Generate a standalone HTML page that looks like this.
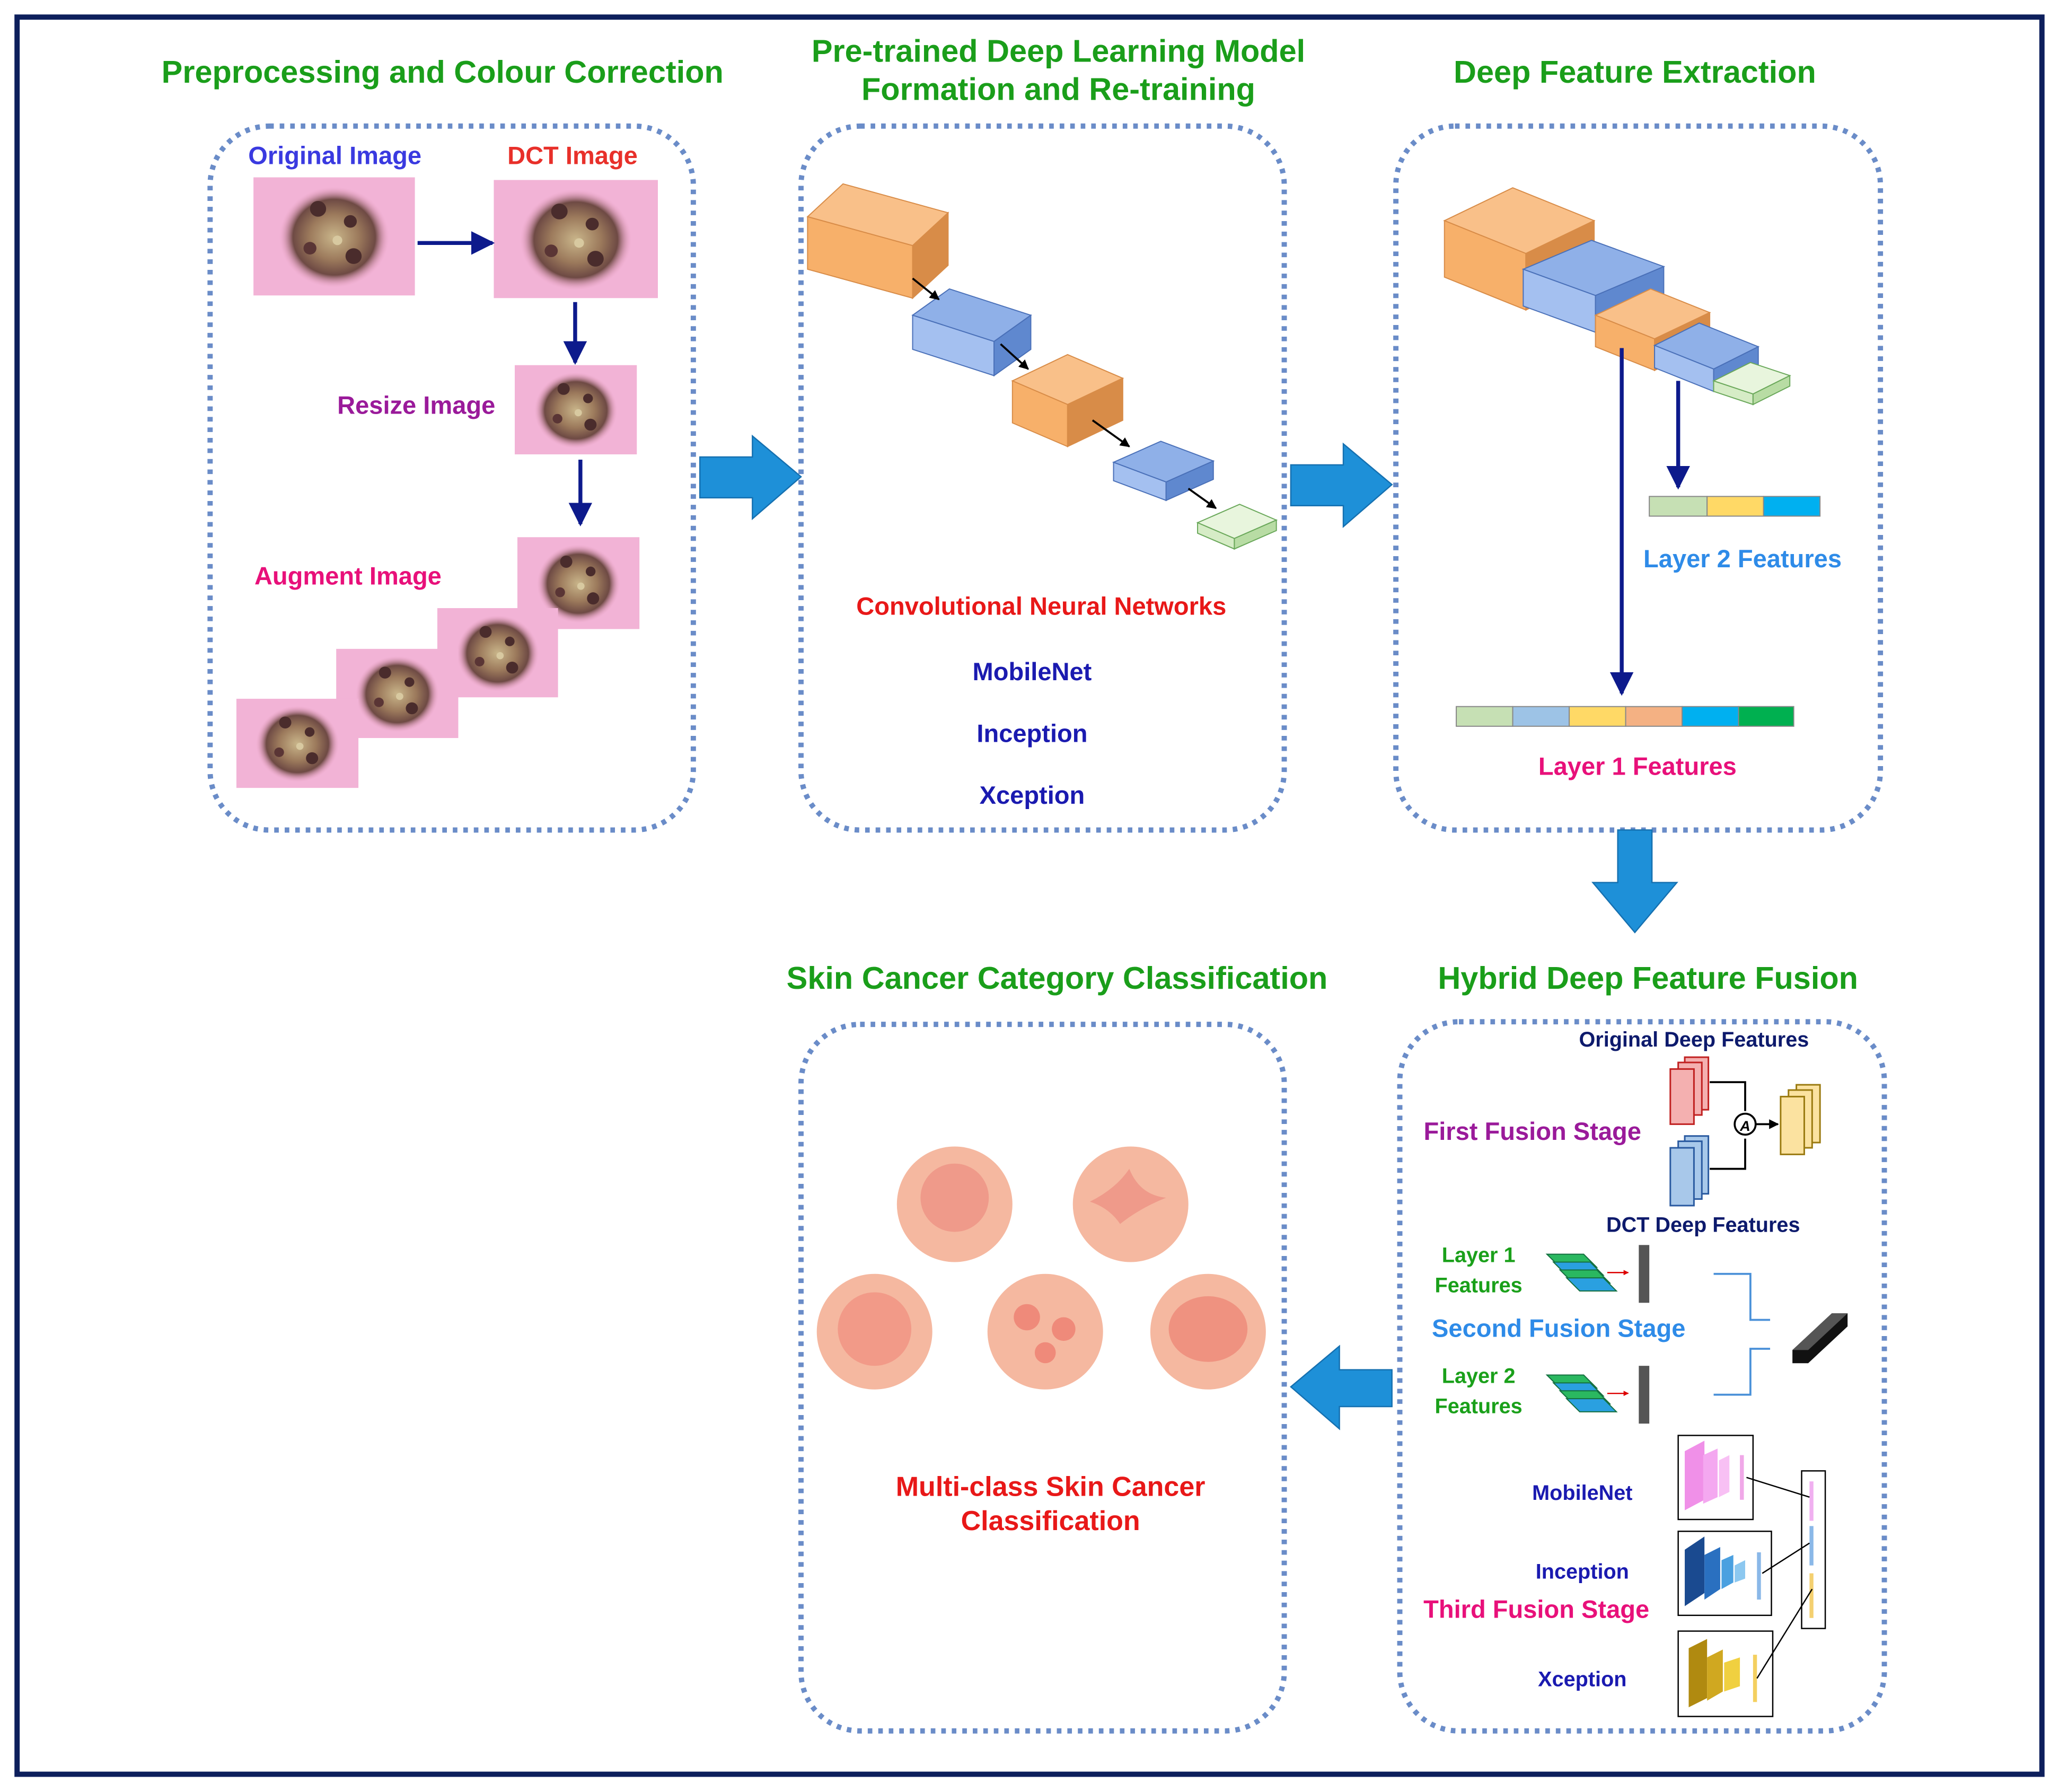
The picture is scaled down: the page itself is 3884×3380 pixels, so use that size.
<!DOCTYPE html>
<html><head><meta charset="utf-8"><style>
html,body{margin:0;padding:0;background:#fff}
svg{display:block}
text{font-family:"Liberation Sans",Arial,sans-serif;font-weight:bold}
</style></head><body>
<svg id="s" width="3884" height="3380" viewBox="0 0 1568 1364.5" xmlns="http://www.w3.org/2000/svg">
<defs>
<radialGradient id="les" cx="50%" cy="50%" r="50%">
<stop offset="0" stop-color="#c9b58a"/><stop offset="0.45" stop-color="#9c7a5c"/><stop offset="0.75" stop-color="#6e4a44"/><stop offset="1" stop-color="#e8a0c0" stop-opacity="0"/></radialGradient>
<symbol id="skin" viewBox="0 0 100 75" preserveAspectRatio="none">
<rect width="100" height="75" fill="#f2b3d6"/>
<ellipse cx="50" cy="38" rx="34" ry="32" fill="url(#les)"/>
<circle cx="40" cy="20" r="5" fill="#4a2c2c"/><circle cx="60" cy="28" r="4" fill="#4a2c2c"/>
<circle cx="35" cy="45" r="4" fill="#5a3535"/><circle cx="62" cy="50" r="5" fill="#4a2c2c"/><circle cx="52" cy="40" r="3" fill="#d8c9a0"/>
</symbol>
<marker id="ah" viewBox="0 0 10 10" refX="9" refY="5" markerWidth="6" markerHeight="6" orient="auto"><path d="M0,0L10,5L0,10z" fill="#0d1a8c"/></marker>
<marker id="ak" viewBox="0 0 10 10" refX="9" refY="5" markerWidth="5" markerHeight="5" orient="auto"><path d="M0,0L10,5L0,10z" fill="#000"/></marker>
<marker id="ar" viewBox="0 0 10 10" refX="9" refY="5" markerWidth="4" markerHeight="4" orient="auto"><path d="M0,0L10,5L0,10z" fill="#d00"/></marker>
</defs>
<rect x="13" y="13" width="1542" height="1338" fill="none" stroke="#0d1f5c" stroke-width="4"/>
<g fill="none" stroke="#6a8cc8" stroke-width="4" stroke-dasharray="3.5 4.5">
<rect x="160" y="96" width="368" height="536" rx="45"/>
<rect x="610" y="96" width="368" height="536" rx="45"/>
<rect x="1063" y="96" width="369" height="536" rx="45"/>
<rect x="610" y="780" width="368" height="538" rx="45"/>
<rect x="1066" y="778" width="369" height="540" rx="45"/>
</g>
<g fill="#1a9e1a" font-size="24" text-anchor="middle">
<text x="337" y="63">Preprocessing and Colour Correction</text>
<text x="806" y="47">Pre-trained Deep Learning Model</text>
<text x="806" y="76">Formation and Re-training</text>
<text x="1245" y="63">Deep Feature Extraction</text>
<text x="805" y="753">Skin Cancer Category Classification</text>
<text x="1255" y="753">Hybrid Deep Feature Fusion</text>
</g>
<!-- big blue arrows -->
<g fill="#1e90d8" stroke="#1570b0" stroke-width="1">
<path d="M533,348h40v-16l37,31l-37,32v-16h-40z"/>
<path d="M983,354h40v-16l37,31l-37,32v-16h-40z"/>
<path d="M1232,632h26v40h19l-32,38l-32,-38h19z"/>
<path d="M1060,1043h-40v-18l-37,31l37,32v-17h40z"/>
</g>
<!-- panel 1 -->
<g font-size="19" text-anchor="middle">
<text x="255" y="125" fill="#3a3ae0">Original Image</text>
<text x="436" y="125" fill="#e8302a">DCT Image</text>
<text x="317" y="315" fill="#9a1a9a">Resize Image</text>
<text x="265" y="445" fill="#e8107a">Augment Image</text>
</g>
<use href="#skin" x="193" y="135" width="123" height="90"/>
<use href="#skin" x="376" y="137" width="125" height="90"/>
<use href="#skin" x="392" y="278" width="93" height="68"/>
<use href="#skin" x="394" y="409" width="93" height="70"/>
<use href="#skin" x="333" y="463" width="92" height="68"/>
<use href="#skin" x="256" y="494" width="93" height="68"/>
<use href="#skin" x="180" y="532" width="93" height="68"/>
<g stroke="#0d1a8c" stroke-width="3" marker-end="url(#ah)">
<line x1="318" y1="185" x2="375" y2="185"/>
<line x1="438" y1="230" x2="438" y2="276"/>
<line x1="442" y1="350" x2="442" y2="399"/>
</g>
<!-- panel 2 text -->
<g font-size="19" text-anchor="middle">
<text x="793" y="468" fill="#e81818">Convolutional Neural Networks</text>
<text x="786" y="518" fill="#1a1ab0">MobileNet</text>
<text x="786" y="565" fill="#1a1ab0">Inception</text>
<text x="786" y="612" fill="#1a1ab0">Xception</text>
</g>
<g id="cubes"></g>
<g stroke="#000" stroke-width="1.5" marker-end="url(#ak)">
<line x1="695" y1="212" x2="715" y2="228"/>
<line x1="762" y1="262" x2="783" y2="281"/>
<line x1="832" y1="320" x2="860" y2="340"/>
<line x1="905" y1="372" x2="926" y2="387"/>
</g>
<!-- panel 3 -->
<g stroke="#0d1a8c" stroke-width="3" marker-end="url(#ah)">
<line x1="1235" y1="265" x2="1235" y2="528"/>
<line x1="1278" y1="290" x2="1278" y2="371"/>
</g>
<g stroke="#888" stroke-width="0.8">
<rect x="1256" y="378" width="44" height="15" fill="#c6e0b4"/>
<rect x="1300" y="378" width="43" height="15" fill="#ffd966"/>
<rect x="1343" y="378" width="43" height="15" fill="#00b0f0"/>
<rect x="1109" y="538" width="43" height="15" fill="#c6e0b4"/>
<rect x="1152" y="538" width="43" height="15" fill="#9dc3e6"/>
<rect x="1195" y="538" width="43" height="15" fill="#ffd966"/>
<rect x="1238" y="538" width="43" height="15" fill="#f4b183"/>
<rect x="1281" y="538" width="43" height="15" fill="#00b0f0"/>
<rect x="1324" y="538" width="42" height="15" fill="#00b050"/>
</g>
<g font-size="19" text-anchor="middle">
<text x="1327" y="432" fill="#2e8be8">Layer 2 Features</text>
<text x="1247" y="590" fill="#e8107a">Layer 1 Features</text>
</g>
<!-- panel 4 -->
<g>
<circle cx="727" cy="917" r="44" fill="#f5b8a0"/><circle cx="727" cy="912" r="26" fill="#ef9a8a"/>
<circle cx="861" cy="917" r="44" fill="#f5b8a0"/><path d="M830,915q20,-10 30,-25q8,20 28,22q-20,8 -35,20q-8,-12 -23,-17z" fill="#ef9a8a"/>
<circle cx="666" cy="1014" r="44" fill="#f5b8a0"/><circle cx="666" cy="1012" r="28" fill="#f29a88"/>
<circle cx="796" cy="1014" r="44" fill="#f5b8a0"/><circle cx="782" cy="1003" r="10" fill="#ef8a7a"/><circle cx="810" cy="1012" r="9" fill="#ef8a7a"/><circle cx="796" cy="1030" r="8" fill="#ef8a7a"/>
<circle cx="920" cy="1014" r="44" fill="#f5b8a0"/><ellipse cx="920" cy="1012" rx="30" ry="25" fill="#ef9280"/>
</g>
<g font-size="21" text-anchor="middle" fill="#e81818">
<text x="800" y="1139">Multi-class Skin Cancer</text>
<text x="800" y="1165">Classification</text>
</g>
<!-- panel 5 -->
<g font-size="16" fill="#0d1a6c" text-anchor="middle">
<text x="1290" y="797">Original Deep Features</text>
<text x="1297" y="938">DCT Deep Features</text>
</g>
<g font-size="19" text-anchor="middle">
<text x="1167" y="868" fill="#9a1a9a">First Fusion Stage</text>
<text x="1187" y="1018" fill="#2e8be8">Second Fusion Stage</text>
<text x="1170" y="1232" fill="#e8107a">Third Fusion Stage</text>
</g>
<g font-size="16" text-anchor="middle" fill="#1aa01a">
<text x="1126" y="961">Layer 1</text><text x="1126" y="984">Features</text>
<text x="1126" y="1053">Layer 2</text><text x="1126" y="1076">Features</text>
</g>
<g font-size="16" text-anchor="middle" fill="#1a1ab0">
<text x="1205" y="1142">MobileNet</text>
<text x="1205" y="1202">Inception</text>
<text x="1205" y="1284">Xception</text>
</g>
<g stroke="#c02020" stroke-width="1.2" fill="#f4b0b0">
<rect x="1283" y="805" width="18" height="40"/><rect x="1278" y="809" width="18" height="40"/><rect x="1272" y="814" width="18" height="42"/>
</g>
<g stroke="#2a5aa0" stroke-width="1.2" fill="#a8c8ea">
<rect x="1283" y="865" width="18" height="44"/><rect x="1278" y="869" width="18" height="44"/><rect x="1272" y="874" width="18" height="44"/>
</g>
<g stroke="#9a7a10" stroke-width="1.2" fill="#fbe2a0">
<rect x="1368" y="826" width="18" height="44"/><rect x="1362" y="830" width="18" height="44"/><rect x="1356" y="835" width="18" height="44"/>
</g>
<g stroke="#000" stroke-width="1.5" fill="none">
<path d="M1302,824h27v22"/><path d="M1302,890h27v-23"/>
<circle cx="1329" cy="856" r="8" fill="#fff"/>
<line x1="1337" y1="856" x2="1354" y2="856" marker-end="url(#ak)"/>
</g>
<text x="1329" y="861" font-size="11" text-anchor="middle" font-style="italic" fill="#000">A</text>
<g id="greens"></g>
<g stroke="#d00" stroke-width="1" marker-end="url(#ar)">
<line x1="1224" y1="969" x2="1240" y2="969"/><line x1="1224" y1="1061" x2="1240" y2="1061"/>
</g>
<rect x="1248" y="948" width="8" height="44" fill="#555"/>
<rect x="1248" y="1040" width="8" height="44" fill="#555"/>
<g stroke="#4a90d8" stroke-width="1.5" fill="none">
<path d="M1305,970h28v35h15"/><path d="M1305,1062h28v-35h15"/>
</g>
<polygon points="1365,1028 1395,1000 1407,1000 1407,1010 1377,1038 1365,1038" fill="#111"/>
<polygon points="1365,1028 1395,1000 1407,1000 1377,1028" fill="#555"/>
<g stroke="#000" stroke-width="1" fill="#fff">
<rect x="1278" y="1093" width="57" height="64"/>
<rect x="1278" y="1166" width="71" height="64"/>
<rect x="1278" y="1242" width="72" height="65"/>
<rect x="1372" y="1120" width="18" height="120"/>
</g>
<g>
<polygon points="1283,1150 1283,1105 1298,1097 1298,1142" fill="#f090e8"/>
<polygon points="1297,1145 1297,1108 1308,1103 1308,1140" fill="#f4a8f0"/>
<polygon points="1309,1140 1309,1112 1317,1108 1317,1136" fill="#f8c0f4"/>
<rect x="1325" y="1108" width="3" height="34" fill="#f0a8e8"/>
<polygon points="1283,1223 1283,1180 1298,1170 1298,1213" fill="#1a4a90"/>
<polygon points="1298,1218 1298,1184 1310,1178 1310,1210" fill="#2a70c0"/>
<polygon points="1311,1210 1311,1188 1320,1184 1320,1205" fill="#4aa0e0"/>
<polygon points="1321,1205 1321,1192 1329,1188 1329,1202" fill="#8cc8f0"/>
<rect x="1338" y="1182" width="3" height="36" fill="#8ab8e8"/>
<polygon points="1286,1300 1286,1255 1300,1248 1300,1293" fill="#b08a10"/>
<polygon points="1300,1295 1300,1262 1312,1256 1312,1288" fill="#d0a820"/>
<polygon points="1313,1288 1313,1266 1325,1262 1325,1284" fill="#f0d040"/>
<rect x="1335" y="1260" width="3" height="36" fill="#f4d060"/>
<rect x="1378" y="1128" width="3" height="30" fill="#f0b0f0"/>
<rect x="1378" y="1162" width="3" height="30" fill="#8ab8e8"/>
<rect x="1378" y="1198" width="3" height="34" fill="#f4d070"/>
</g>
<g stroke="#000" stroke-width="1">
<line x1="1330" y1="1125" x2="1378" y2="1140"/>
<line x1="1342" y1="1198" x2="1378" y2="1175"/>
<line x1="1338" y1="1278" x2="1380" y2="1210"/>
</g>
<script>
(function(){
var g=document.getElementById('cubes'),NS='http://www.w3.org/2000/svg';
function poly(pts,fill,stroke){var p=document.createElementNS(NS,'polygon');p.setAttribute('points',pts.map(function(a){return a[0]+','+a[1]}).join(' '));p.setAttribute('fill',fill);p.setAttribute('stroke',stroke);p.setAttribute('stroke-width','0.8');g.appendChild(p);}
var C={o:['#f9c089','#f7b06a','#d88c48','#d88c48'],b:['#8fb0e8','#a4c0f0','#5f88cf','#4a70b8'],g:['#e8f5dd','#d6ecc6','#b8dca4','#6aa85a']};
function box(x,y,ux,uy,vx,vy,h,c){var k=C[c];var L=[x,y],F=[x+ux,y+uy],R=[F[0]+vx,F[1]+vy],B=[x+vx,y+vy];
poly([L,F,R,B],k[0],k[3]);poly([L,F,[F[0],F[1]+h],[L[0],L[1]+h]],k[1],k[3]);poly([F,R,[R[0],R[1]+h],[F[0],F[1]+h]],k[2],k[3]);}
box(615,165,80,22,27,-25,40,'o');
box(695,240,62,20,28,-20,26,'b');
box(771,290,42,18,42,-20,32,'o');
box(848,352,40,15,36,-16,14,'b');
box(912,398,28,12,32,-14,8,'g');
box(1100,168,62,25,52,-25,43,'o');
box(1160,205,55,20,52,-22,28,'b');
box(1215,240,45,18,42,-20,24,'o');
box(1260,263,45,18,34,-17,17,'b');
box(1305,290,30,10,28,-14,8,'g');
g=document.getElementById('greens');
[[955],[1047]].forEach(function(a){var y=a[0];for(var i=0;i<4;i++){poly([[1178+i*5,y+i*6],[1206+i*5,y+i*6],[1216+i*5,y+i*6+10],[1188+i*5,y+i*6+10]],i%2?'#2aa0e0':'#2ab860','#157040');}});
})();
</script>
</svg>
</body></html>
